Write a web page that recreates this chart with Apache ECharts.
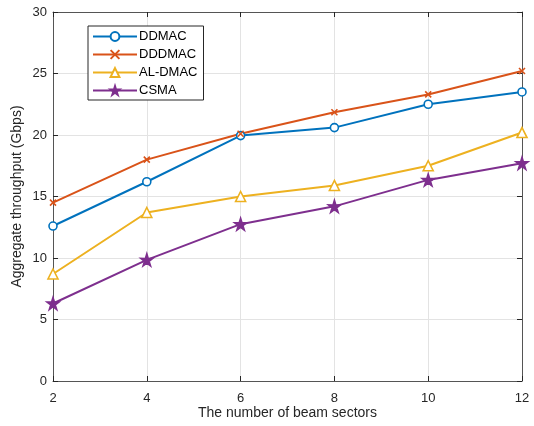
<!DOCTYPE html>
<html><head><meta charset="utf-8">
<script src="https://cdn.jsdelivr.net/npm/echarts@6/dist/echarts.min.js"></script>
<style>html,body{margin:0;padding:0;background:#fff}#c{width:534px;height:426px}</style>
</head><body><div id="c"></div>
<script>
const sectors = [2, 4, 6, 8, 10, 12];
const ddmac   = [12.6, 16.2, 19.95, 20.6, 22.5, 23.5];
const dddmac  = [14.5, 18.0, 20.1, 21.85, 23.3, 25.2];
const aldmac  = [8.7, 13.7, 15.0, 15.9, 17.5, 20.2];
const csma    = [6.3, 9.85, 12.75, 14.2, 16.35, 17.7];
const yTicks  = [0, 5, 10, 15, 20, 25, 30];

const FONT = 'Liberation Sans, Arial, sans-serif';
const AX = '#262626';
const star = 'path://M0,-10L2.23,-3.07L9.51,-3.09L3.61,1.17L5.88,8.09L0,3.8L-5.88,8.09L-3.61,1.17L-9.51,-3.09L-2.23,-3.07Z';
const cross = 'path://M0,0L10,10M10,0L0,10';

function pts(v){ return sectors.map((x,i)=>[x,v[i]]); }
function mk(name, data, color, symbol, size, fill){
  return {
    name, type:'line', data: pts(data), symbol, symbolSize:size,
    lineStyle:{color, width:2},
    itemStyle:{color: fill ? color : '#fff', borderColor:color, borderWidth:1.6},
    emphasis:{disabled:true}, z: 3
  };
}
const chart = echarts.init(document.getElementById('c'), null, {renderer:'canvas'});
const axCommon = {
  axisLine:{show:true, onZero:false, lineStyle:{color:'#555', width:1}},
  axisTick:{show:true, inside:true, length:5, lineStyle:{color:AX}},
};
chart.setOption({
  animation:false,
  textStyle:{fontFamily:FONT},
  grid:{left:53, right:12, top:12, bottom:45, containLabel:false},
  legend:{
    left:88, top:26, orient:'vertical', itemWidth:44, itemHeight:11, itemGap:5,
    backgroundColor:'#fff', borderColor:AX, borderWidth:1, padding:[4,6,3,4],
    textStyle:{fontFamily:FONT, fontSize:13, color:'#000', padding:[0,0,0,-3]},
    data:['DDMAC','DDDMAC','AL-DMAC','CSMA']
  },
  xAxis:[{
    type:'value', min:2, max:12, interval:2, position:'bottom',
    name:'The number of beam sectors', nameLocation:'middle', nameGap:25,
    nameMoveOverlap:false,
    nameTextStyle:{fontFamily:FONT, fontSize:14, color:AX},
    axisLabel:{fontFamily:FONT, fontSize:13, color:AX, margin:11},
    splitLine:{show:true, lineStyle:{color:'#e3e3e3', width:1}},
    ...axCommon
  },{
    type:'value', min:2, max:12, interval:2, position:'top',
    axisLabel:{show:false}, splitLine:{show:false}, ...axCommon
  }],
  yAxis:[{
    type:'value', min:0, max:30, interval:5, position:'left',
    name:'Aggregate throughput (Gbps)', nameLocation:'middle', nameGap:29,
    nameMoveOverlap:false,
    nameTextStyle:{fontFamily:FONT, fontSize:14, color:AX},
    axisLabel:{fontFamily:FONT, fontSize:13, color:AX, margin:6,
      formatter:(v)=> yTicks.includes(v) ? String(v) : ''},
    splitLine:{show:true, lineStyle:{color:'#e3e3e3', width:1}},
    ...axCommon
  },{
    type:'value', min:0, max:30, interval:5, position:'right',
    axisLabel:{show:false}, splitLine:{show:false}, ...axCommon
  }],
  series:[
    mk('DDMAC', ddmac, '#0072BD', 'circle', 8, false),
    mk('DDDMAC', dddmac, '#D95319', cross, 6, false),
    mk('AL-DMAC', aldmac, '#EDB120', 'triangle', 10, false),
    mk('CSMA', csma, '#7E2F8E', star, 12, true)
  ]
});
</script></body></html>
